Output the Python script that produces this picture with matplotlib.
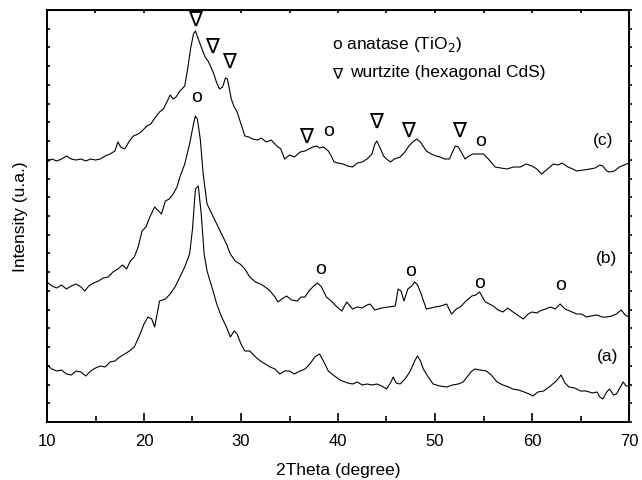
import matplotlib
matplotlib.use("Agg")
import matplotlib.pyplot as plt
from matplotlib.ticker import MultipleLocator

plt.rcParams['font.family'] = ['Liberation Sans', 'DejaVu Sans']

# ---- data (2theta in degrees, intensity in arbitrary units) ----
theta_a = [10.0, 10.5, 11.0, 11.5, 12.0, 12.5, 13.0, 13.5, 14.0, 14.5, 15.0, 15.5, 16.0, 16.5, 17.0, 17.5,
           18.0, 18.5, 19.0, 19.6, 20.0, 20.4, 20.8, 21.1, 21.6, 22.2, 22.7, 23.2, 23.7, 24.2, 24.7, 25.0,
           25.3, 25.6, 25.9, 26.2, 26.5, 27.0, 27.5, 28.0, 28.5, 28.9, 29.3, 29.6, 30.0, 30.4, 30.9, 31.5,
           32.0, 32.5, 33.0, 33.5, 34.0, 34.5, 35.0, 35.5, 36.1, 36.6, 37.1, 37.6, 38.1, 38.5, 39.0, 39.5,
           40.2, 41.0, 41.5, 42.0, 42.5, 43.0, 43.5, 44.0, 44.5, 45.0, 45.4, 45.7, 46.0, 46.4, 46.9, 47.4,
           47.9, 48.2, 48.5, 48.8, 49.3, 49.8, 50.5, 51.2, 51.8, 52.4, 52.9, 53.3, 53.7, 54.1, 54.7, 55.3,
           55.8, 56.4, 57.0, 57.6, 58.0, 58.6, 59.2, 59.7, 60.1, 60.6, 61.2, 61.9, 62.5, 63.0, 63.4, 63.8,
           64.4, 65.0, 65.6, 66.2, 66.7, 67.0, 67.3, 67.7, 68.0, 68.4, 68.7, 69.0, 69.4, 69.7, 70.0]
int_a = [57, 53, 51, 52, 48, 47, 51, 50, 46, 51, 54, 56, 55, 60, 61, 65,
         68, 71, 75, 88, 98, 105, 103, 95, 121, 123, 128, 135, 145, 155, 168, 193,
         233, 236, 208, 168, 151, 135, 118, 105, 95, 85, 91, 88, 78, 71, 71, 65,
         61, 58, 55, 53, 48, 51, 51, 48, 51, 53, 58, 65, 68, 61, 51, 47,
         42, 39, 38, 40, 37, 38, 37, 38, 36, 33, 39, 45, 39, 38, 43, 50,
         61, 66, 61, 53, 45, 38, 36, 35, 37, 38, 40, 45, 50, 53, 52, 51,
         47, 40, 37, 35, 33, 32, 30, 28, 26, 30, 31, 36, 41, 47, 39, 35,
         34, 31, 31, 29, 30, 25, 23, 30, 33, 27, 28, 33, 40, 36, 36]

theta_b = [10.0, 10.5, 11.0, 11.5, 12.0, 12.5, 13.0, 13.5, 13.9, 14.3, 14.8, 15.3, 15.8, 16.3, 16.8, 17.3,
           17.8, 18.2, 18.6, 19.0, 19.4, 19.8, 20.2, 20.6, 21.1, 21.5, 21.8, 22.2, 22.6, 23.0, 23.4, 23.7,
           24.2, 24.7, 25.1, 25.3, 25.5, 25.8, 26.1, 26.5, 27.0, 27.5, 28.0, 28.5, 28.9, 29.4, 29.9, 30.4,
           30.9, 31.5, 32.0, 32.5, 33.0, 33.5, 33.8, 34.2, 34.7, 35.2, 35.8, 36.2, 36.6, 37.0, 37.5, 37.9,
           38.3, 38.8, 39.3, 39.9, 40.4, 40.9, 41.5, 42.0, 42.5, 43.0, 43.3, 43.8, 44.5, 45.2, 45.9, 46.2,
           46.5, 46.8, 47.2, 47.6, 47.9, 48.2, 48.5, 49.1, 49.6, 50.0, 50.6, 51.2, 51.7, 52.2, 52.6, 53.2,
           53.8, 54.2, 54.6, 55.0, 55.2, 55.6, 56.0, 56.5, 57.0, 57.5, 57.9, 58.5, 59.1, 59.6, 60.0, 60.5,
           60.8, 61.4, 61.9, 62.4, 62.9, 63.4, 63.9, 64.6, 65.1, 65.6, 66.1, 66.7, 67.2, 67.7, 68.2, 68.7,
           69.2, 69.6, 70.0]
int_b = [140, 136, 134, 137, 133, 136, 138, 135, 131, 136, 139, 141, 144, 145, 150, 153,
         157, 153, 161, 165, 175, 191, 195, 205, 215, 211, 208, 221, 223, 228, 235, 245,
         258, 278, 298, 306, 303, 283, 248, 218, 208, 198, 188, 178, 168, 161, 158, 153,
         145, 140, 138, 135, 131, 125, 120, 123, 126, 122, 121, 125, 125, 131, 136, 139,
         135, 125, 121, 115, 111, 120, 113, 115, 114, 117, 118, 112, 114, 115, 116, 133,
         131, 121, 133, 136, 140, 137, 130, 113, 114, 115, 116, 118, 108, 113, 115, 121,
         126, 127, 130, 123, 120, 118, 116, 112, 110, 114, 111, 107, 103, 108, 110, 109,
         111, 113, 115, 113, 118, 113, 111, 108, 108, 105, 106, 107, 105, 105, 106, 108,
         112, 107, 105]

theta_c = [10.0, 10.5, 11.0, 11.5, 12.0, 12.5, 13.0, 13.5, 14.0, 14.5, 15.0, 15.5, 16.0, 16.5, 17.0, 17.3,
           17.6, 18.0, 18.5, 18.9, 19.4, 19.8, 20.3, 20.7, 21.2, 21.6, 22.0, 22.4, 22.7, 23.0, 23.3, 23.7,
           24.2, 24.5, 24.8, 25.1, 25.3, 25.6, 25.9, 26.3, 26.6, 26.9, 27.2, 27.5, 27.8, 28.1, 28.4, 28.6,
           29.0, 29.3, 29.6, 30.0, 30.4, 30.8, 31.2, 31.7, 32.1, 32.6, 33.1, 33.7, 34.1, 34.5, 35.0, 35.5,
           36.1, 36.6, 37.0, 37.4, 37.8, 38.1, 38.5, 39.0, 39.3, 39.6, 40.0, 40.5, 41.0, 41.5, 42.0, 42.5,
           43.0, 43.5, 43.8, 44.0, 44.3, 44.7, 45.0, 45.4, 45.8, 46.4, 46.9, 47.3, 47.7, 48.1, 48.5, 49.1,
           49.6, 50.1, 50.5, 51.0, 51.5, 51.8, 52.1, 52.4, 52.7, 53.1, 53.5, 53.9, 54.4, 55.0, 55.5, 56.2,
           56.8, 57.4, 58.1, 58.8, 59.4, 60.0, 60.5, 61.0, 61.6, 62.2, 62.7, 63.1, 63.7, 64.2, 64.6, 65.3,
           66.0, 66.5, 67.0, 67.3, 67.7, 68.0, 68.5, 69.0, 69.5, 70.0]
int_c = [260, 263, 261, 263, 266, 263, 262, 263, 261, 263, 262, 263, 266, 268, 271, 280,
         275, 273, 281, 286, 288, 291, 296, 298, 305, 310, 313, 321, 327, 323, 325, 331,
         336, 353, 373, 388, 391, 383, 375, 365, 361, 355, 348, 339, 333, 335, 344, 343,
         323, 315, 310, 298, 286, 285, 283, 282, 284, 280, 282, 276, 273, 263, 267, 265,
         270, 271, 273, 275, 276, 274, 275, 271, 266, 260, 259, 258, 256, 255, 259, 260,
         263, 268, 278, 281, 275, 266, 263, 260, 263, 265, 270, 276, 280, 283, 280, 271,
         268, 266, 265, 263, 263, 270, 276, 275, 270, 263, 266, 268, 268, 268, 263, 255,
         254, 253, 255, 255, 258, 256, 253, 248, 253, 258, 257, 259, 255, 253, 251, 252,
         253, 254, 257, 256, 251, 250, 251, 255, 257, 259]

# phase markers: (2theta, intensity)
wurtzite_x = [25.26, 27.0, 28.76, 36.7, 43.9, 47.2, 52.5]
wurtzite_y = [403, 376, 361, 286, 301, 292, 292]
anatase_x = [25.46, 39.07, 54.7, 38.2, 47.5, 54.6, 62.9]
anatase_y = [325, 292, 282, 154, 152, 140, 137]

sample_labels = ['(a)', '(b)', '(c)']
sample_label_x = [67.8, 67.7, 67.3]
sample_label_y = [66, 165, 282]

# ---- figure ----
fig = plt.figure(figsize=(6.42, 4.81), dpi=100)
ax = fig.add_axes([47/642, 58/481, 582/642, 412/481])

for t, i in [(theta_a, int_a), (theta_b, int_b), (theta_c, int_c)]:
    ax.plot(t, i, color='black', lw=0.8)

ax.set_xlim(10, 70)
ax.set_ylim(0, 412)

for s in ax.spines.values():
    s.set_linewidth(1.4)

ax.xaxis.set_major_locator(MultipleLocator(10))
ax.xaxis.set_minor_locator(MultipleLocator(5))
ax.yaxis.set_major_locator(MultipleLocator(412/22))
ax.tick_params(axis='x', which='major', direction='in', length=6.5, width=1.2,
               labelsize=12, pad=8, top=False)
ax.tick_params(axis='x', which='minor', direction='in', length=4.3, width=1.2, top=False)
ax.tick_params(axis='y', which='major', direction='in', length=2.5, width=1.2,
               labelleft=False, right=False)

axt = ax.secondary_xaxis('top')
axt.xaxis.set_major_locator(MultipleLocator(5))
axt.tick_params(direction='in', length=2.5, width=1.2, labeltop=False)
axr = ax.secondary_yaxis('right')
axr.yaxis.set_major_locator(MultipleLocator(412/22))
axr.tick_params(direction='out', length=2.5, width=1.2, labelright=False)

ax.set_xlabel('2Theta (degree)', fontsize=12.5, labelpad=10)
ax.set_ylabel('Intensity (u.a.)', fontsize=12.5)
ax.yaxis.set_label_coords(-0.033, 0.5)

for x, y in zip(wurtzite_x, wurtzite_y):
    ax.text(x, y, '\u2207', fontsize=15, ha='center', va='center',
            family=['DejaVu Sans'])
for x, y in zip(anatase_x, anatase_y):
    ax.text(x, y, 'o', fontsize=14, ha='center', va='center')

for lab, x, y in zip(sample_labels, sample_label_x, sample_label_y):
    ax.text(x, y, lab, fontsize=12.5, ha='center', va='center')

ax.text(39.4, 378, 'o anatase (TiO$_2$)', fontsize=12.5, ha='left', va='center')
ax.text(39.4, 349, '\u2207', fontsize=11, ha='left', va='center', family=['DejaVu Sans'])
ax.text(41.2, 351, 'wurtzite (hexagonal CdS)', fontsize=12.5, ha='left', va='center')

fig.savefig('out.png', dpi=100)
